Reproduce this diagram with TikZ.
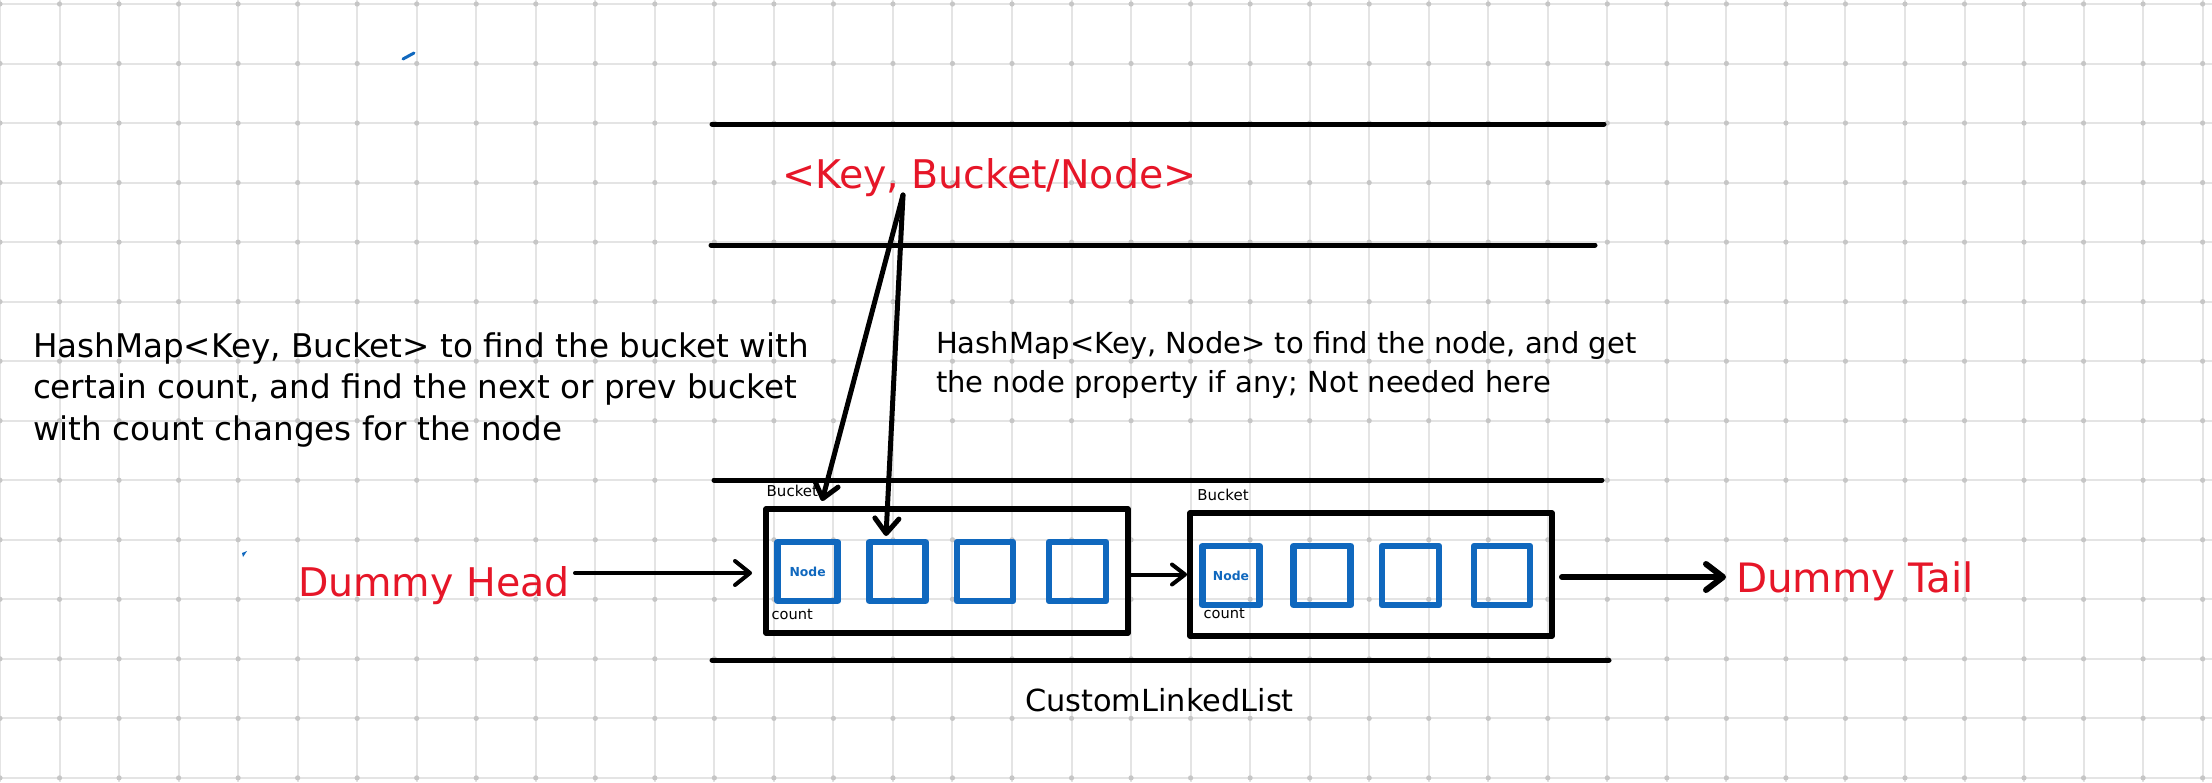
\documentclass[tikz,border=0pt]{standalone}
\usepackage{fontspec}
\setmainfont{DejaVu Sans}
\usetikzlibrary{arrows.meta}
\definecolor{gridline}{RGB}{228,228,228}
\definecolor{griddot}{RGB}{198,198,198}
\definecolor{inkblue}{RGB}{16,104,190}
\definecolor{inkred}{RGB}{230,22,40}
\newcommand{\hwsize}[1]{\fontsize{#1}{#1}\selectfont}
\tikzset{
  hw/.style={inner sep=0pt, outer sep=0pt, anchor=base west, text=black},
  redtxt/.style={hw, text=inkred, font=\hwsize{39.5}},
  rail/.style={line width=5pt, line cap=round},
  bucketbox/.style={draw, line width=5.5pt, line join=round, inner sep=0pt, outer sep=0pt, minimum width=362pt},
  nodebox/.style={draw=inkblue, line width=6.5pt, line join=round, inner sep=0pt, outer sep=0pt, minimum height=59pt, text=inkblue, font=\hwsize{12.4}\bfseries},
  arr/.style={line width=4pt, line cap=round, -{Straight Barb[length=15pt,width=24pt,line cap=round,line join=round]}},
}
\begin{document}
\begin{tikzpicture}[x=1pt,y=-1pt]
\useasboundingbox (0,0) rectangle (2212,782);
\fill[white] (0,0) rectangle (2212,782);
% grid
\foreach \i in {0,...,37} \draw[gridline, line width=2pt] ({59.53*\i},0) -- ({59.53*\i},782);
\foreach \j in {0,...,13} \draw[gridline, line width=2pt] (0,{4+59.53*\j}) -- (2212,{4+59.53*\j});
\foreach \i in {0,...,37} \foreach \j in {0,...,13} \fill[griddot] ({59.53*\i},{4+59.53*\j}) circle (2.6pt);

% long rails
\draw[rail] (712,124) -- (1604,124);
\draw[rail] (711,245) -- (1595,245);
\draw[rail] (714,480) -- (1602,480);
\draw[rail] (712,660) -- (1609,660);

% stray blue marks
\draw[inkblue, line width=3pt, line cap=round] (403,59) -- (414,53);
\fill[inkblue] (242,553) -- (247,551) -- (243,557) -- cycle;

% texts
\node[hw, font=\hwsize{32.6}] (l1) at (33,357) {HashMap<Key, Bucket> to find the bucket with};
\node[hw, font=\hwsize{32.6}] (l2) at (33,398.5) {certain count, and find the next or prev bucket};
\node[hw, font=\hwsize{32.6}] (l3) at (33,440) {with count changes for the node};
\node[hw, font=\hwsize{29}] (r1) at (936,353) {HashMap<Key, Node> to find the node, and get};
\node[hw, font=\hwsize{29}] (r2) at (936,392) {the node property if any; Not needed here};
\node[redtxt] (key) at (782,188) {<Key, Bucket/Node>};
\node[redtxt] (dh) at (298,596) {Dummy Head};
\node[redtxt, font=\hwsize{40.5}] (dt) at (1736,592.7) {Dummy Tail};
\node[hw, font=\hwsize{30.4}] (cll) at (1025,711.7) {CustomLinkedList};

% buckets
\node[bucketbox, minimum height=124pt] (b1) at (947,571) {};
\node[bucketbox, minimum height=123pt] (b2) at (1371,574.5) {};
\node[hw, font=\hwsize{15}] (bl1) at (766.7,496.7) {Bucket};
\node[hw, font=\hwsize{15}] (bl2) at (1197.4,500) {Bucket};
\node[hw, font=\hwsize{14.6}] (c1) at (771.7,619.3) {count};
\node[hw, font=\hwsize{14.6}] (c2) at (1203.6,618.3) {count};

% node boxes in bucket 1
\node[nodebox, minimum width=60pt] (n11) at (807.6,571.5) {Node};
\node[nodebox, minimum width=56pt] (n12) at (897.5,571.5) {};
\node[nodebox, minimum width=56pt] (n13) at (985,571.5) {};
\node[nodebox, minimum width=57pt] (n14) at (1077.5,571.5) {};
% node boxes in bucket 2
\node[nodebox, minimum width=57pt] (n21) at (1231,575.5) {Node};
\node[nodebox, minimum width=57pt] (n22) at (1322.2,575.5) {};
\node[nodebox, minimum width=57pt] (n23) at (1410.5,575.5) {};
\node[nodebox, minimum width=56pt] (n24) at (1502,575.5) {};

% connector end points
\coordinate (apex) at (903,195);
\coordinate (tipB) at (822,501);
\coordinate (tipN) at (886,536);
\coordinate (dhs) at (575,573);
\coordinate (dhe) at (752,573);
\coordinate (dts) at (1562,577);
\coordinate (dte) at (1726,577);

% connectors
\draw[arr, line width=5pt] (apex) -- (tipB);
\draw[arr, line width=5pt] (apex) -- (tipN);
\draw[arr] (dhs) -- (dhe);
\draw[arr, -{Straight Barb[length=13pt,width=20pt,line cap=round,line join=round]}] (b1.east |- b2.west) -- ([xshift=-3pt]b2.west);
\draw[arr, line width=6pt, -{Straight Barb[length=17pt,width=26pt,line cap=round,line join=round]}] (dts) -- (dte);
\end{tikzpicture}
\end{document}
